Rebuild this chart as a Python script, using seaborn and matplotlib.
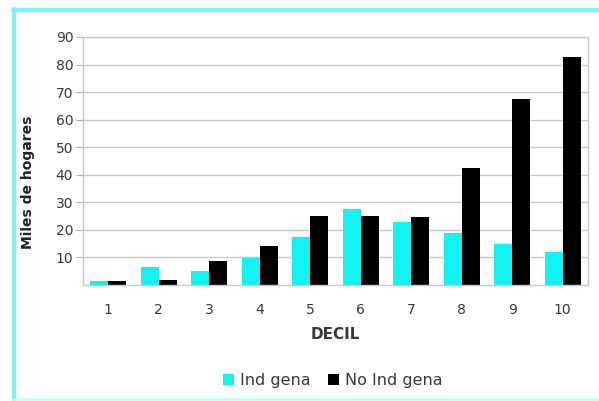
import matplotlib
matplotlib.use("Agg")
import matplotlib.pyplot as plt
from matplotlib.lines import Line2D
from matplotlib.patches import Patch
import seaborn as sns
import pandas as pd

# Households (thousands) by income decile
deciles = ["1", "2", "3", "4", "5", "6", "7", "8", "9", "10"]
ind_gena = [1.5, 6.7, 4.9, 9.8, 17.5, 27.5, 22.8, 18.8, 15.0, 12.0]
no_ind_gena = [1.5, 1.8, 8.8, 14.2, 25.2, 25.2, 24.8, 42.5, 67.5, 82.8]
series_names = ["Ind gena", "No Ind gena"]
y_ticks = [10, 20, 30, 40, 50, 60, 70, 80, 90]

df = pd.DataFrame({
    "decil": deciles * 2,
    "valor": ind_gena + no_ind_gena,
    "serie": [series_names[0]] * len(deciles) + [series_names[1]] * len(deciles),
})

sns.set_theme(style="white")
plt.rcParams["font.family"] = ["DejaVu Sans"]

colors = {"Ind gena": "#12F2F0", "No Ind gena": "#000000"}
text_color = "#383838"

fig = plt.figure(figsize=(5.99, 4.01), dpi=100)
fig.patch.set_facecolor("white")
ax = fig.add_axes([0.1386, 0.2893, 0.843, 0.6185])

sns.barplot(data=df, x="decil", y="valor", hue="serie", order=deciles,
            hue_order=series_names, palette=colors, width=0.72,
            saturation=1, legend=False, linewidth=0, ax=ax)

ax.set_ylim(0, 90)
ax.set_xlim(-0.5, len(deciles) - 0.5)
ax.set_yticks(y_ticks)
ax.set_yticklabels([str(t) for t in y_ticks])
ax.yaxis.grid(True, color="#c8c8c8", linewidth=1.0)
ax.set_axisbelow(True)
ax.tick_params(axis="y", which="both", left=True, length=5, width=0.8,
               color="#b0b0b0", labelsize=10, labelcolor=text_color, pad=2)
ax.tick_params(axis="x", bottom=False, length=0, labelsize=10,
               labelcolor=text_color, pad=13)

for side in ["top", "right", "bottom", "left"]:
    ax.spines[side].set_color("#c8c8c8")
    ax.spines[side].set_linewidth(1.0)

ax.set_xlabel("DECIL", fontsize=11, fontweight="bold", color=text_color)
ax.xaxis.set_label_coords(0.5, -0.198)
ax.xaxis.label.set_va("center")
ax.set_ylabel("Miles de hogares", fontsize=10, fontweight="bold", color="#222222")
ax.yaxis.set_label_coords(-0.109, 0.415)
ax.yaxis.label.set_va("center")

handles = [Patch(facecolor=colors[n], edgecolor="none") for n in series_names]
fig.legend(handles, series_names, loc="center", bbox_to_anchor=(0.555, 0.05),
           ncol=2, frameon=False, fontsize=11.5, handlelength=0.7, handleheight=0.7,
           handletextpad=0.35, columnspacing=1.1, labelcolor=text_color)

# Cyan frame on the top, left and bottom edges
border = "#7DF4F4"
fig.add_artist(Line2D([0.021, 1.0], [0.975, 0.975], transform=fig.transFigure,
                      color=border, linewidth=3))
fig.add_artist(Line2D([0.023, 0.023], [0.0, 0.978], transform=fig.transFigure,
                      color=border, linewidth=3))
fig.add_artist(Line2D([0.021, 1.0], [0.004, 0.004], transform=fig.transFigure,
                      color="#C8F8F8", linewidth=2))

fig.savefig("out.png", dpi=100, facecolor="white")
